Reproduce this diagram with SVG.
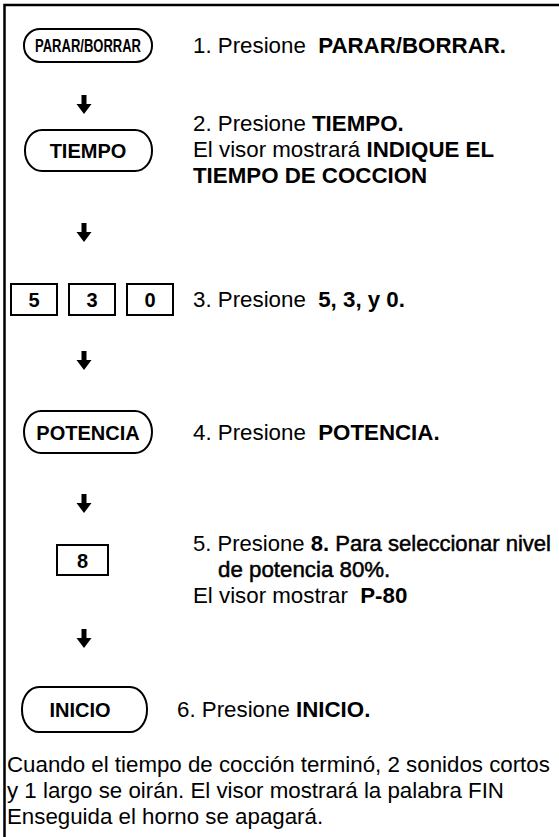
<svg xmlns="http://www.w3.org/2000/svg" width="559" height="837" viewBox="0 0 559 837">
<style>
text{font-family:"Liberation Sans",Arial,Helvetica,sans-serif;fill:#000}
.t{font-size:22.3px}
.b{font-weight:bold}
.m{stroke:#000;stroke-width:0.5px}
.pill{fill:#fff;stroke:#000;stroke-width:2}
.box{fill:#fff;stroke:#000;stroke-width:2}
.k{font-size:20px;font-weight:bold;text-anchor:middle}
.frame{stroke:#000;stroke-width:2.5;fill:none}
</style>
<defs>
<path id="arr" d="M-2.5,0 H2.5 V9 H7.5 L0,19 L-7.5,9 H-2.5 Z" fill="#000"/>
</defs>
<path class="frame" d="M4.5,837 V5 H559"/>

<g id="connectors">
<use href="#arr" x="84" y="95"/>
<use href="#arr" x="84" y="223"/>
<use href="#arr" x="84" y="351"/>
<use href="#arr" x="84" y="494"/>
<use href="#arr" x="84" y="629"/>
</g>

<g id="n1">
<rect class="pill" x="24" y="29" width="128" height="33" rx="16" ry="16"/>
<text class="b" x="88" y="52" font-size="18" text-anchor="middle" textLength="106" lengthAdjust="spacingAndGlyphs">PARAR/BORRAR</text>
<text class="t" x="193" y="53" xml:space="preserve">1. Presione  <tspan class="b">PARAR/BORRAR.</tspan></text>
</g>

<g id="n2">
<rect class="pill" x="25" y="130" width="127" height="41" rx="17" ry="20"/>
<text class="b" x="88" y="158" font-size="20" text-anchor="middle">TIEMPO</text>
<text class="t" x="193" y="131">2. Presione <tspan class="b">TIEMPO.</tspan></text>
<text class="t" x="193" y="157">El visor mostrará <tspan class="b">INDIQUE EL</tspan></text>
<text class="t b" x="193" y="183">TIEMPO DE COCCION</text>
</g>

<g id="n3">
<rect class="box" x="11" y="284" width="46" height="31"/>
<rect class="box" x="69" y="284" width="46" height="31"/>
<rect class="box" x="127" y="284" width="46" height="31"/>
<text class="k" x="34" y="307">5</text>
<text class="k" x="92" y="307">3</text>
<text class="k" x="150" y="307">0</text>
<text class="t" x="193" y="307" xml:space="preserve">3. Presione  <tspan class="b">5, 3, y 0.</tspan></text>
</g>

<g id="n4">
<rect class="pill" x="24" y="411" width="128" height="42" rx="17" ry="21"/>
<text class="b" x="88" y="440" font-size="20" text-anchor="middle">POTENCIA</text>
<text class="t" x="193" y="440" xml:space="preserve">4. Presione  <tspan class="b">POTENCIA.</tspan></text>
</g>

<g id="n5">
<rect class="box" x="57" y="545" width="51" height="30"/>
<text class="k" x="82.5" y="568">8</text>
<text class="t" x="193" y="551" textLength="358" lengthAdjust="spacingAndGlyphs">5. Presione <tspan class="b">8.</tspan> <tspan class="m">Para seleccionar nivel</tspan></text>
<text class="t m" x="218" y="577">de potencia 80%.</text>
<text class="t" x="193" y="603" xml:space="preserve">El visor mostrar  <tspan class="b">P-80</tspan></text>
</g>

<g id="n6">
<rect class="pill" x="22" y="687" width="125" height="45" rx="17" ry="22"/>
<text class="b" x="80" y="717" font-size="20" text-anchor="middle">INICIO</text>
<text class="t" x="177" y="717">6. Presione <tspan class="b">INICIO.</tspan></text>
</g>

<g id="note">
<text class="t" x="7" y="772">Cuando el tiempo de cocción terminó, 2 sonidos cortos</text>
<text class="t" x="7" y="798">y 1 largo se oirán. El visor mostrará la palabra FIN</text>
<text class="t" x="7" y="824">Enseguida el horno se apagará.</text>
</g>
</svg>
